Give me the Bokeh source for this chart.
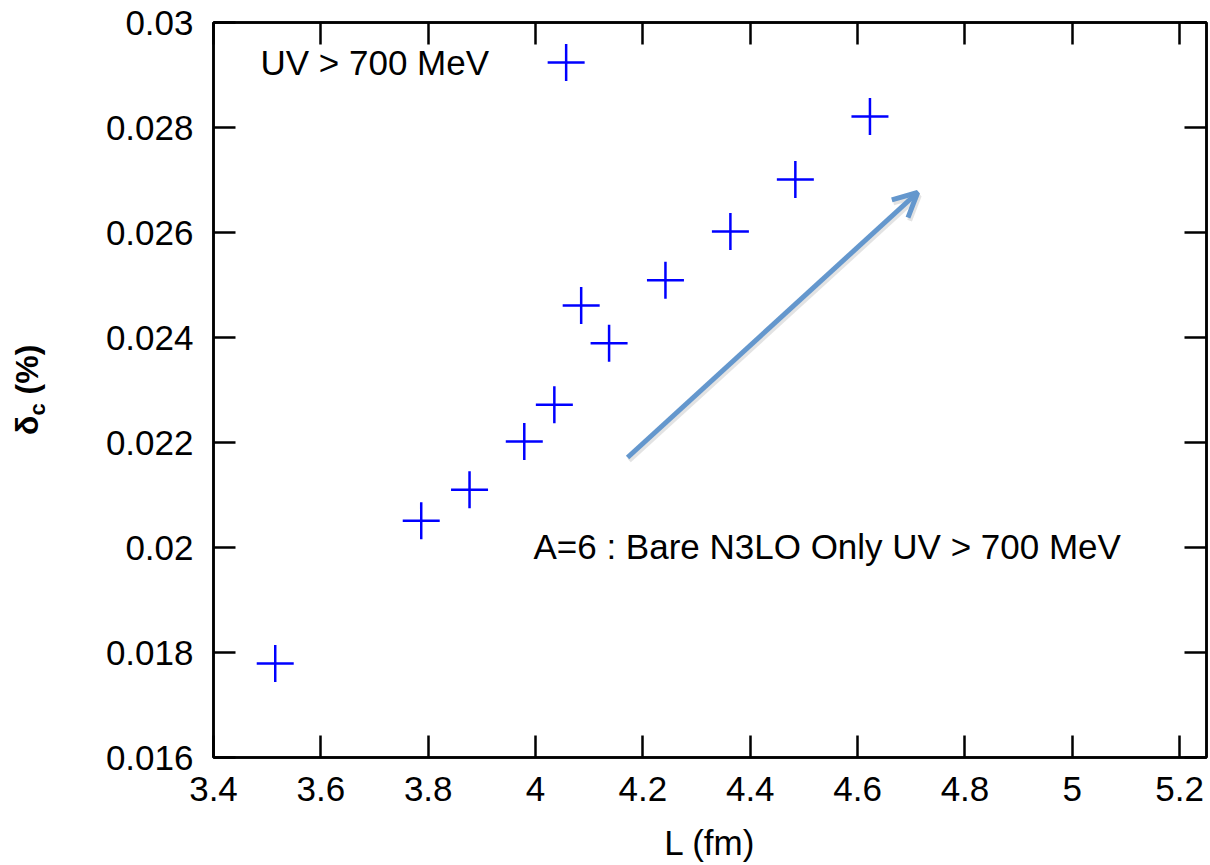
from bokeh.plotting import figure
from bokeh.models import (LinearAxis, FixedTicker, Label, Arrow, OpenHead,
                          ColumnDataSource, Range1d, Div)
from bokeh.layouts import row
from bokeh.embed import file_html
from bokeh.resources import INLINE

# ---- data ----
L_fm = [3.515, 3.787, 3.877, 3.979, 4.035, 4.057, 4.085, 4.137, 4.242, 4.363, 4.484, 4.623]
delta_c = [0.01779, 0.02051, 0.02110, 0.02202, 0.02272, 0.02924, 0.02461, 0.02389,
           0.02509, 0.02602, 0.02701, 0.02821]

x_ticks = [3.4, 3.6, 3.8, 4.0, 4.2, 4.4, 4.6, 4.8, 5.0, 5.2]
x_tick_labels = ["3.4", "3.6", "3.8", "4", "4.2", "4.4", "4.6", "4.8", "5", "5.2"]
y_ticks = [0.016, 0.018, 0.020, 0.022, 0.024, 0.026, 0.028, 0.030]
y_tick_labels = ["0.016", "0.018", "0.02", "0.022", "0.024", "0.026", "0.028", "0.03"]

FONT = "Liberation Sans"
DIV_W = 45

p = figure(width=1210 - DIV_W, height=865, output_backend="svg", toolbar_location=None,
           x_range=Range1d(3.4, 5.25), y_range=Range1d(0.016, 0.030),
           min_border_left=213 - DIV_W, min_border_right=4, min_border_top=22,
           min_border_bottom=108, x_axis_location="below", y_axis_location="left")
p.background_fill_color = "white"
p.border_fill_color = "white"
p.outline_line_color = "black"
p.outline_line_width = 2.5
p.grid.visible = False

def style_axis(ax, ticks, labels, show_labels):
    ax.ticker = FixedTicker(ticks=ticks)
    ax.minor_tick_line_color = None
    ax.major_tick_in = 22
    ax.major_tick_out = 0
    ax.major_tick_line_width = 2.5
    ax.major_tick_line_color = "black"
    ax.axis_line_width = 2.5
    ax.axis_line_color = "black"
    if show_labels:
        ax.major_label_overrides = {t: l for t, l in zip(ticks, labels)}
        ax.major_label_text_font = FONT
        ax.major_label_text_font_size = "35px"
        ax.major_label_text_color = "black"
    else:
        ax.major_label_overrides = {t: "" for t in ticks}
        ax.major_label_text_font_size = "0px"
        ax.major_label_standoff = 0

xb = p.xaxis[0]
style_axis(xb, x_ticks, x_tick_labels, True)
xb.major_label_standoff = 19
xb.axis_label = "L (fm)"
xb.axis_label_text_font = FONT
xb.axis_label_text_font_size = "35px"
xb.axis_label_text_font_style = "normal"
xb.axis_label_text_color = "black"
xb.axis_label_standoff = 19

yl = p.yaxis[0]
style_axis(yl, y_ticks, y_tick_labels, True)
yl.major_label_standoff = 20

xt = LinearAxis()
style_axis(xt, x_ticks, x_tick_labels, False)
p.add_layout(xt, "above")
yr = LinearAxis()
style_axis(yr, y_ticks, y_tick_labels, False)
p.add_layout(yr, "right")

# data markers
src = ColumnDataSource(dict(x=L_fm, y=delta_c))
p.scatter("x", "y", source=src, marker="cross", size=37, line_color="#0000ff",
          line_width=2.5)

# arrow (with faint shadow)
p.add_layout(Arrow(end=OpenHead(size=24, line_color="#b0b0b0", line_width=5, line_alpha=0.35),
                   x_start=4.1744, y_start=0.021657, x_end=4.7148, y_end=0.026705,
                   line_color="#b0b0b0", line_width=5, line_alpha=0.35))
p.add_layout(Arrow(end=OpenHead(size=24, line_color="#6497cd", line_width=5),
                   x_start=4.1714, y_start=0.021714, x_end=4.7118, y_end=0.026762,
                   line_color="#6497cd", line_width=5))

# annotations
p.add_layout(Label(x=3.4875, y=0.02924, text="UV > 700 MeV", text_font=FONT,
                   text_font_size="35px", text_color="black",
                   text_baseline="alphabetic", text_align="left"))
p.add_layout(Label(x=3.996, y=0.02002, text="A=6 : Bare N3LO Only UV > 700 MeV",
                   text_font=FONT, text_font_size="35px", text_color="black",
                   text_baseline="alphabetic", text_align="left"))

# rotated y-axis label with subscript, as real HTML text
ylabel_html = (
    '<div style="position:absolute; left:0; top:0; width:865px; height:54px; '
    'line-height:54px; white-space:nowrap; transform-origin:0 0; '
    'transform:translate(0px, 865px) rotate(-90deg); padding-left:430px; '
    'box-sizing:border-box; font-family:\'Liberation Sans\'; font-weight:bold; '
    'font-size:32px; color:black;">'
    'δ<sub style="font-size:22px; line-height:0;">c</sub> (%)</div>'
)
ydiv = Div(text=ylabel_html, width=DIV_W, height=865, margin=0,
           styles={"position": "relative", "overflow": "visible"})

layout = row(ydiv, p, spacing=0)
open("out.html", "w").write(file_html(layout, INLINE))
